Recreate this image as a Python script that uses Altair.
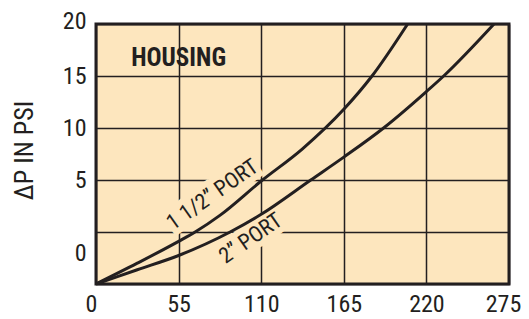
import altair as alt
import pandas as pd

# Curve readings (flow vs. ΔP in axis units; frame bottom is -5)
flow_a = [0, 27.5, 55, 66, 82.5, 110, 137.5, 165, 183.8, 207.5]
dp_a = [-5, -3.0, -0.9, 0, 1.6, 4.9, 8.0, 11.8, 15, 20]
flow_b = [0, 27.5, 55, 89.3, 110, 143, 165, 191.5, 220, 231.5, 265]
dp_b = [-5, -3.63, -2.26, 0, 1.7, 5, 7.2, 10, 13.5, 15, 20]

x_ticks = [0, 55, 110, 165, 220, 275]
y_ticks = [-5, 0, 5, 10, 15, 20]

curve_labels = ["1 1/2\u201d PORT", "2\u201d PORT"]
curve_label_x = [77.5, 103]
curve_label_y = [3.6, -0.6]

BG = "#FDE6BE"
INK = "#231f20"
FONT = "Liberation Sans Narrow, Roboto Condensed, DejaVu Sans Condensed, sans-serif"

rows = [{"flow": f, "dp": d, "series": "a"} for f, d in zip(flow_a, dp_a)]
rows += [{"flow": f, "dp": d, "series": "b"} for f, d in zip(flow_b, dp_b)]
df = pd.DataFrame(rows)

lab_df = pd.DataFrame({"flow": curve_label_x, "dp": curve_label_y, "t": curve_labels})

xscale = alt.Scale(domain=[0, 275], nice=False, zero=False)
yscale = alt.Scale(domain=[-5, 20], nice=False, zero=False)

x_axis = alt.Axis(values=x_ticks, grid=True, gridColor=INK, gridWidth=1.5, gridOpacity=1,
                  domain=False, ticks=False, labelFont=FONT, labelFontSize=24, labelColor=INK,
                  labelPadding=8, title=None, labelFlush=False,
                  labelOffset={"expr": "datum.value == 0 ? -5 : (datum.value == 275 ? -6 : 0)"})
y_axis = alt.Axis(values=y_ticks, grid=True, gridColor=INK, gridWidth=1.5, gridOpacity=1,
                  domain=False, ticks=False, labelFont=FONT, labelFontSize=24, labelColor=INK,
                  labelPadding=10, labelExpr="datum.value < 0 ? '' : datum.label",
                  labelOffset={"expr": "datum.value == 0 ? 21 : (datum.value == 20 ? -3 : 0)"},
                  title="\u0394P IN PSI", titleFont=FONT, titleFontSize=26, titleFontWeight="normal",
                  titleColor=INK, titleX=-72, titleY=126, titleBaseline="middle", titleAlign="center",
                  titleAngle=270, labelFlush=False)

X = alt.X("flow:Q", scale=xscale, axis=x_axis)
Y = alt.Y("dp:Q", scale=yscale, axis=y_axis)

lines = alt.Chart(df).mark_line(color=INK, strokeWidth=3, interpolate="monotone").encode(
    x=X, y=Y, detail="series:N",
)

halo = alt.Chart(lab_df).mark_text(font=FONT, fontSize=22, angle=325, color=BG,
                                    stroke=BG, strokeWidth=12).encode(
    x=X, y=Y, text="t:N",
)
labels = alt.Chart(lab_df).mark_text(font=FONT, fontSize=22, angle=325, color=INK).encode(
    x=X, y=Y, text="t:N",
)

housing = alt.Chart(pd.DataFrame({"flow": [55], "dp": [16.7], "t": ["HOUSING"]})).mark_text(
    font=FONT, fontSize=25, fontWeight="bold", color=INK).encode(
    x=X, y=Y, text="t:N",
)

chart = alt.layer(halo, lines, labels, housing).properties(
    width=413, height=260,
    autosize=alt.AutoSizeParams(type="none"),
    padding={"left": 88, "top": 16, "right": 12, "bottom": 33},
    background="white",
).configure_view(stroke=INK, strokeWidth=3, fill=BG)

chart.save("out.html", embed_options={"renderer": "svg", "actions": False})
